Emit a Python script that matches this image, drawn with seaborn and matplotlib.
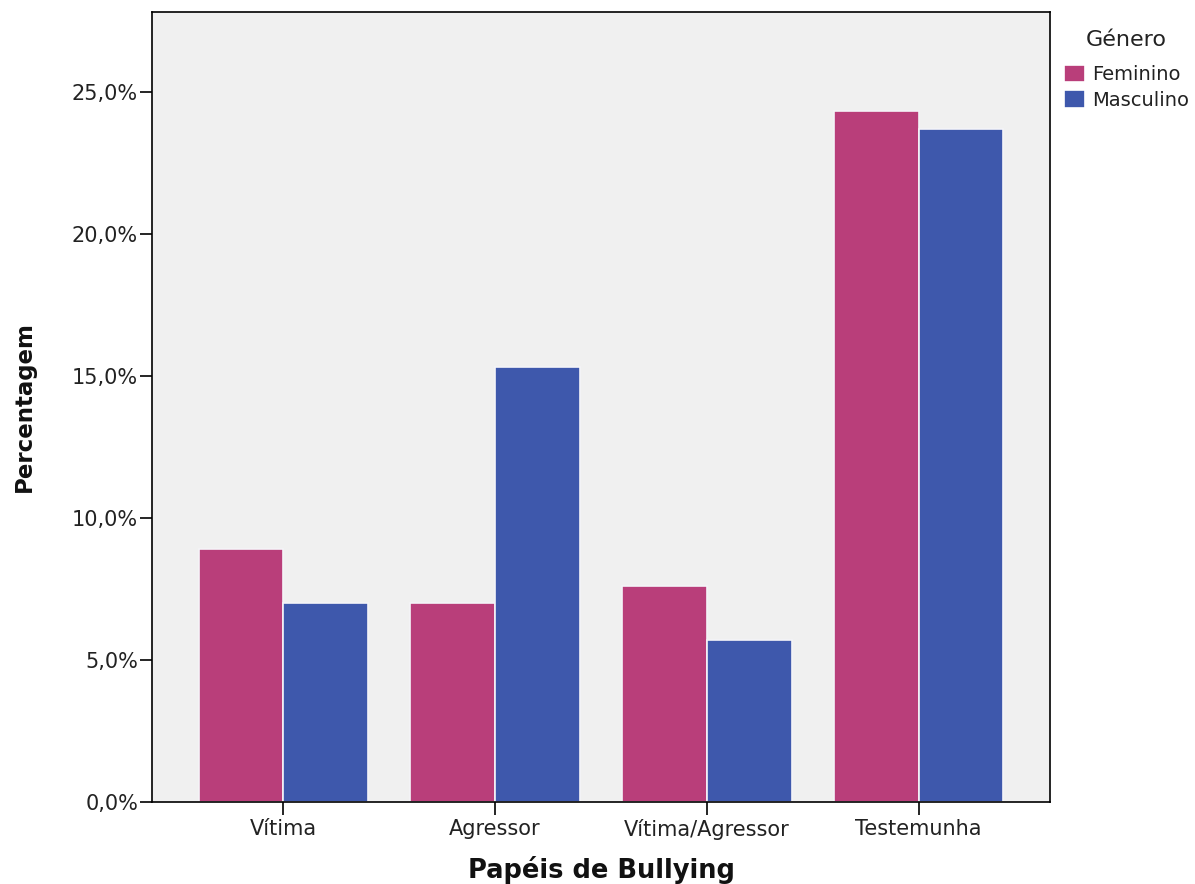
import pandas as pd
import matplotlib.pyplot as plt
import seaborn as sns
from matplotlib.ticker import FuncFormatter

# Data
papeis = ['Vítima', 'Agressor', 'Vítima/Agressor', 'Testemunha']
feminino = [8.9, 7.0, 7.6, 24.3]
masculino = [7.0, 15.3, 5.7, 23.7]

df = pd.DataFrame({
    'Papel': papeis * 2,
    'Genero': ['Feminino'] * 4 + ['Masculino'] * 4,
    'Percentagem': feminino + masculino,
})

sns.set_style("ticks")
plt.rcParams['font.family'] = ['DejaVu Sans']

fig = plt.figure(figsize=(11.95, 8.84), dpi=100)
ax = fig.add_axes([0.1272, 0.0928, 0.7515, 0.8936])
ax.set_facecolor('#F0F0F0')

sns.barplot(
    data=df, x='Papel', y='Percentagem', hue='Genero',
    palette={'Feminino': '#B93E7A', 'Masculino': '#3E58AC'},
    width=0.8, edgecolor='#F4F4F8', linewidth=1.2, saturation=1,
    ax=ax,
)

ax.set_ylim(0, 27.8)
ax.set_xlim(-0.62, 3.62)
ax.set_yticks([0, 5, 10, 15, 20, 25])
ax.yaxis.set_major_formatter(FuncFormatter(lambda v, p: f'{v:.1f}%'.replace('.', ',')))
ax.tick_params(axis='both', labelsize=15, length=9, width=1.2, color='black', labelcolor='#222222')
ax.tick_params(axis='y', pad=1)
ax.tick_params(axis='x', pad=3)

for s in ax.spines.values():
    s.set_visible(True)
    s.set_color('black')
    s.set_linewidth(1.2)

ax.set_xlabel('Papéis de Bullying', fontsize=18.5, fontweight='bold', labelpad=12, color='#111111')
ax.set_ylabel('Percentagem', fontsize=16.5, fontweight='bold', labelpad=26, color='#111111')

leg = ax.legend(title='Género', loc='upper left', bbox_to_anchor=(1.0, 0.995),
                frameon=False, fontsize=14, title_fontsize=16,
                handlelength=1.1, handleheight=1.0, handletextpad=0.35,
                labelspacing=0.32, borderaxespad=0.3, borderpad=0.4)
leg._legend_box.sep = 11
leg.get_title().set_color('#222222')
for t in leg.get_texts():
    t.set_color('#222222')
for h in leg.legend_handles:
    h.set_edgecolor('white')

fig.savefig('out.png', dpi=100)
